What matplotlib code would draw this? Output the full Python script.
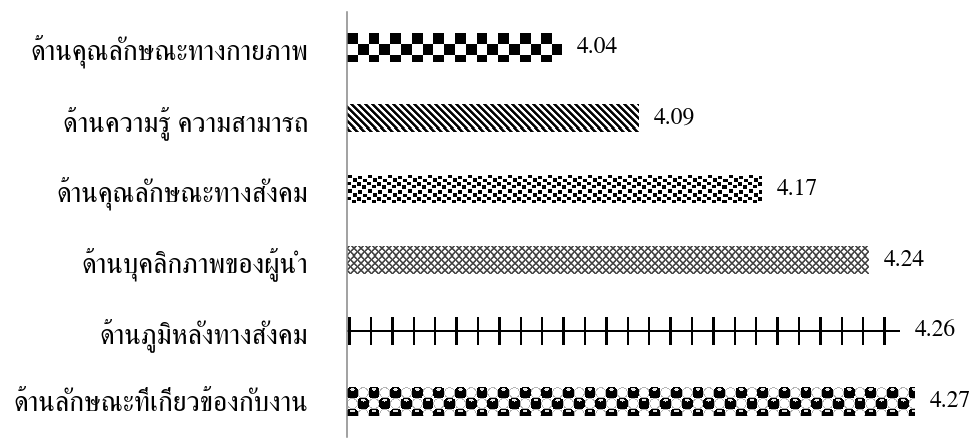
import numpy as np
import matplotlib
matplotlib.use("Agg")
import matplotlib.pyplot as plt

plt.rcParams['font.family'] = ['FreeSerif', 'DejaVu Serif']

categories = [
    "ด้านคุณลักษณะทางกายภาพ",
    "ด้านความรู้ ความสามารถ",
    "ด้านคุณลักษณะทางสังคม",
    "ด้านบุคลิกภาพของผู้นำ",
    "ด้านภูมิหลังทางสังคม",
    "ด้านลักษณะที่เกี่ยวข้องกับงาน",
]
scores = [4.04, 4.09, 4.17, 4.24, 4.26, 4.27]
x_min, x_max = 3.9, 4.3
bar_h = 0.4


# --- fill patterns, in pixel coordinates local to each bar -------------------
def checker(X, Y, h):
    c = 10.8
    return ((np.floor(X / c) + np.floor(Y / c)) % 2).astype(float)


def wide_diag(X, Y, h):
    p = 7.0
    return np.clip(0.5 + 1.3 * np.cos(2 * np.pi * (X - Y) / p), 0, 1)


# dot corners inside a 20 x 14 px confetti tile
CONFETTI_DOTS = [(1, 1), (11, 2), (6, 4.5), (16, 5), (0, 8), (10, 8.5), (5, 11), (15, 11.5)]


def confetti(X, Y, h):
    out = np.ones_like(X)
    tx = X % 20.0
    ty = Y % 14.0
    for dx, dy in CONFETTI_DOTS:
        hit = (((tx - dx) % 20.0) < 3.6) & (((ty - dy) % 14.0) < 3.4)
        out[hit] = 0.0
    return out


def diamond(X, Y, h):
    p = 7.0
    d1 = np.abs(((X + Y) % p) - p / 2)
    d2 = np.abs(((X - Y) % p) - p / 2)
    v = np.minimum(d1, d2)
    return np.clip(0.3 + (v - 0.6) * 0.6, 0.25, 1.0)


def grid(X, Y, h):
    out = np.ones_like(X)
    out[np.abs(Y - h / 2) < 1.0] = 0.0
    out[((X - 1.5) % 21.4) < 2.4] = 0.0
    return out


def spheres(X, Y, h):
    c = 10.8
    out = np.ones_like(X)
    i = np.floor(X / c)
    j = np.floor(Y / c)
    cx = (i + 0.5) * c
    cy = (j + 0.5) * c
    ball = ((i + j) % 2) == 0
    r2 = (X - cx) ** 2 + (Y - cy) ** 2
    out[ball & (r2 < 6.4 ** 2)] = 0.0
    hl = ((X - cx) / 2.4) ** 2 + ((Y - cy + 3.4) / 1.3) ** 2 < 1
    out[ball & hl] = 0.9
    edge = ~ball & (r2 < 5.6 ** 2) & (r2 > 4.6 ** 2)
    out[edge] = 0.7
    return out


patterns = [checker, wide_diag, confetti, diamond, grid, spheres]

fig = plt.figure(figsize=(9.75, 4.43), dpi=100)
ax = fig.add_axes([347 / 975, 6 / 443, 614 / 975, 425 / 443])
ax.set_xlim(x_min, x_max)
ax.set_ylim(len(categories) - 0.5, -0.5)

ypos = np.arange(len(categories))
bars = ax.barh(ypos, scores, height=bar_h, facecolor='none', edgecolor='none')

W, H = 614, 425
step = H / len(categories)
X, Y = np.meshgrid(np.arange(W) + 0.5, np.arange(H) + 0.5)
for k, (bar, fill) in enumerate(zip(bars, patterns)):
    top = (k + 0.5 - bar_h / 2) * step
    img = fill(X, Y - top, bar_h * step)
    im = ax.imshow(img, cmap='gray', vmin=0, vmax=1, interpolation='nearest',
                   extent=(x_min, x_max, len(categories) - 0.5, -0.5),
                   origin='upper', aspect='auto', zorder=2)
    im.set_clip_path(bar)

for y, v in zip(ypos, scores):
    ax.annotate(f"{v:.2f}", xy=(v, y), xytext=(11, 0), textcoords='offset points',
                va='center', ha='left', fontsize=17, color='black')

ax.set_yticks(ypos)
ax.set_yticklabels(categories, fontsize=20)
ax.tick_params(axis='y', length=0, pad=28)
ax.set_xticks([])
for side in ['top', 'right', 'bottom']:
    ax.spines[side].set_visible(False)
ax.spines['left'].set_color('#888888')
ax.spines['left'].set_linewidth(1.1)

fig.savefig("out.png", dpi=100)
